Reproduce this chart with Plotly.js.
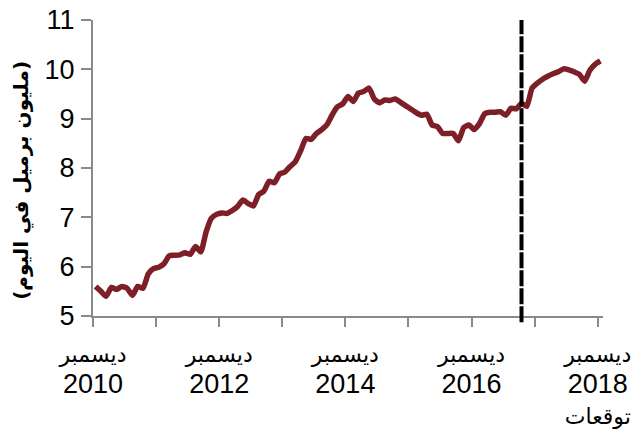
<!DOCTYPE html>
<html>
<head>
<meta charset="utf-8">
<script src="https://cdn.plot.ly/plotly-3.0.1.min.js"></script>
<style>html,body{margin:0;padding:0;background:#fff;}</style>
</head>
<body>
<div id="chart" style="width:635px;height:434px;"></div>
<script>
// Monthly production, Dec 2010 .. Dec 2018 (million barrels per day)
const production = [
  5.60, 5.50, 5.40, 5.58, 5.54, 5.60, 5.56, 5.42, 5.60, 5.56, 5.85, 5.96,
  5.99, 6.06, 6.22, 6.23, 6.24, 6.28, 6.25, 6.41, 6.30, 6.70, 6.98, 7.06,
  7.09, 7.08, 7.14, 7.22, 7.35, 7.28, 7.23, 7.46, 7.53, 7.73, 7.70, 7.88,
  7.92, 8.03, 8.13, 8.35, 8.60, 8.58, 8.70, 8.78, 8.88, 9.08, 9.24, 9.30,
  9.45, 9.35, 9.52, 9.55, 9.62, 9.40, 9.32, 9.38, 9.37, 9.40, 9.33, 9.26,
  9.19, 9.12, 9.07, 9.09, 8.87, 8.84, 8.70, 8.70, 8.70, 8.55, 8.82, 8.87,
  8.78, 8.90, 9.10, 9.13, 9.13, 9.14, 9.07, 9.21, 9.20, 9.31, 9.25, 9.62,
  9.72, 9.80, 9.86, 9.91, 9.95, 10.01, 9.99, 9.95, 9.90, 9.76, 9.98, 10.10,
  10.17
];
const forecastStart = 81; // month index where forecast begins
const tickPositions = [-0.5, 11.5, 23.5, 35.5, 47.5, 59.5, 71.5, 83.5, 95.5];
const monthWord = "ديسمبر";
const forecastWord = "توقعات";
const tickYears = ["2010", "", "2012", "", "2014", "", "2016", "", "2018"];
const yTitle = "(مليون برميل في اليوم)";

const A = s => "<span style='font-size:22px'>" + s + "</span>";
const Y = s => "<span style='font-size:27px'>" + s + "</span>";
const tickLabels = tickYears.map((yr, i) => {
  if (!yr) return "";
  let t = A(monthWord) + "<br>" + Y(yr);
  if (i === tickYears.length - 1) t += "<br>" + A(forecastWord);
  return t;
});

const xIdx = production.map((_, i) => i);

const trace = {
  x: xIdx, y: production, type: 'scatter', mode: 'lines',
  line: {color: '#7E1F28', width: 5.5, shape: 'spline', smoothing: 0.5},
  hoverinfo: 'skip'
};

const axisGray = '#8a8a8a';
const fontFam = 'Liberation Sans, Arial, DejaVu Sans, sans-serif';

const layout = {
  width: 635, height: 434,
  margin: {l: 93, r: 32, t: 20, b: 118},
  paper_bgcolor: '#fff', plot_bgcolor: '#fff',
  showlegend: false,
  font: {family: fontFam, color: '#000'},
  xaxis: {
    range: [-0.5, 96.5],
    tickmode: 'array', tickvals: tickPositions, ticktext: tickLabels,
    ticks: 'outside', ticklen: 9, tickwidth: 2, tickcolor: axisGray,
    showline: true, linecolor: axisGray, linewidth: 2,
    showgrid: false, zeroline: false,
    tickfont: {size: 24, color: '#000', family: fontFam},
    ticklabelstandoff: 6,
    tickangle: 0
  },
  yaxis: {
    range: [5, 11], dtick: 1, tick0: 5,
    ticks: 'outside', ticklen: 10, tickwidth: 2, tickcolor: axisGray,
    showline: true, linecolor: axisGray, linewidth: 2,
    showgrid: false, zeroline: false,
    tickfont: {size: 27, color: '#000', family: fontFam},
    ticklabelstandoff: 1
  },
  annotations: [{
    xref: 'paper', yref: 'paper', x: -0.139, y: 0.457,
    xanchor: 'center', yanchor: 'middle', textangle: -90, showarrow: false,
    text: "<b>" + yTitle + "</b>",
    font: {size: 20, color: '#000', family: 'DejaVu Sans, sans-serif'}
  }],
  shapes: [{
    type: 'line', xref: 'x', yref: 'paper',
    x0: forecastStart, x1: forecastStart, y0: -0.021, y1: 1,
    line: {color: '#000', width: 4, dash: '16px,2px'}
  }]
};

Plotly.newPlot('chart', [trace], layout, {staticPlot: true, displayModeBar: false});
</script>
</body>
</html>
